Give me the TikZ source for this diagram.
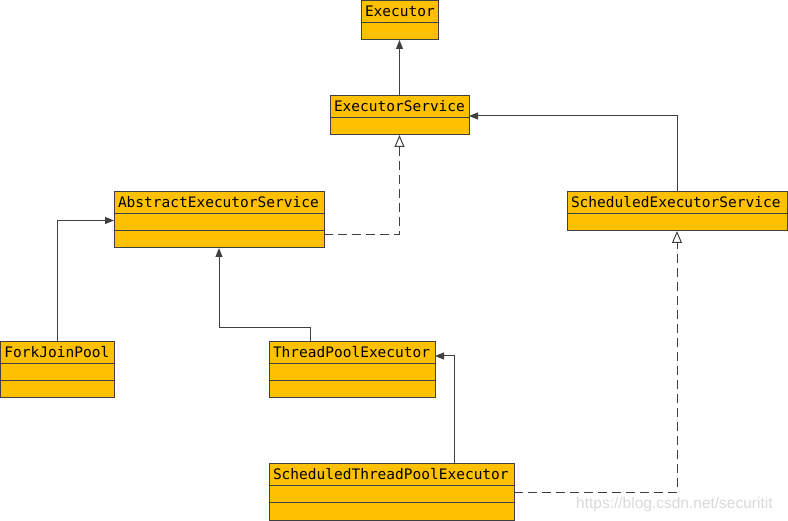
\documentclass[tikz,border=0pt]{standalone}
\usepackage{fontspec}
\usepackage{tikz}
\usetikzlibrary{positioning,arrows.meta}
\newfontfamily\umlfont{DejaVu Sans Mono}
\newfontfamily\markfont{Liberation Sans}
\definecolor{UMLFill}{HTML}{FFC000}
\definecolor{UMLLine}{HTML}{404040}
\definecolor{UMLMark}{HTML}{D9D9D9}

\begin{document}
\begin{tikzpicture}[
  x=1pt, y=-1pt,
  cls/.style={draw=UMLLine, fill=UMLFill, line width=1pt, outer sep=0pt, anchor=north west, inner xsep=4pt, inner ysep=0pt, minimum height=22pt, text height=12.5pt, text depth=2.5pt, text width=#1-8pt, align=left, font=\umlfont\fontsize{14.5}{17}\selectfont},
  clspart/.style={draw=UMLLine, fill=UMLFill, line width=1pt, outer sep=0pt, inner sep=0pt, minimum height=17pt, minimum width=#1},
  inherit/.style={-{Triangle[length=9pt,width=7pt]}, line width=1pt, UMLLine},
  realize/.style={-{Triangle[open,length=12pt,width=10pt,fill=white]}, line width=1pt, UMLLine, dash pattern=on 9pt off 5pt}
]
\useasboundingbox (0,0) rectangle (788,521);
% classes
\node[cls=77pt] (exec) at (361,1) {Executor};
\node[clspart=77pt, below=0pt of exec] (exec-a) {};
\node[cls=139pt] (es) at (330,96) {ExecutorService};
\node[clspart=139pt, below=0pt of es] (es-a) {};
\node[cls=210pt] (abs) at (114,192) {AbstractExecutorService};
\node[clspart=210pt, below=0pt of abs] (abs-a) {};
\node[clspart=210pt, below=0pt of abs-a] (abs-b) {};
\node[cls=220pt] (ses) at (567,192) {ScheduledExecutorService};
\node[clspart=220pt, below=0pt of ses] (ses-a) {};
\node[cls=113.5pt] (fork) at (0.5,342) {ForkJoinPool};
\node[clspart=113.5pt, below=0pt of fork] (fork-a) {};
\node[clspart=113.5pt, below=0pt of fork-a] (fork-b) {};
\node[cls=166pt] (tpe) at (269,342) {ThreadPoolExecutor};
\node[clspart=166pt, below=0pt of tpe] (tpe-a) {};
\node[clspart=166pt, below=0pt of tpe-a] (tpe-b) {};
\node[cls=245pt] (stpe) at (269,464) {ScheduledThreadPoolExecutor};
\node[clspart=245pt, below=0pt of stpe] (stpe-a) {};
\node[clspart=245pt, below=0pt of stpe-a] (stpe-b) {};
% relations
\draw[inherit] (es.north) -- (exec-a.south);
\draw[inherit] (ses.north) |- ([yshift=2pt]es.south east);
\draw[realize] ([yshift=5pt]abs-b.east) -| (es-a.south);
\draw[inherit] (fork.north) |- ([yshift=2pt]abs-a.west);
\draw[inherit] ([xshift=-42pt]tpe.north) -- ++(0,-14) -| (abs-b.south);
\draw[inherit] ([xshift=62.5pt]stpe.north) |- ([yshift=-3pt]tpe.east);
\draw[realize] ([yshift=2pt]stpe-a.east) -| (ses-a.south);
% watermark
\node[anchor=base west, inner sep=0pt, text=UMLMark, font=\markfont\fontsize{15.5}{18}\selectfont] (wm) at (576,508) {https://blog.csdn.net/securitit};
\end{tikzpicture}
\end{document}
